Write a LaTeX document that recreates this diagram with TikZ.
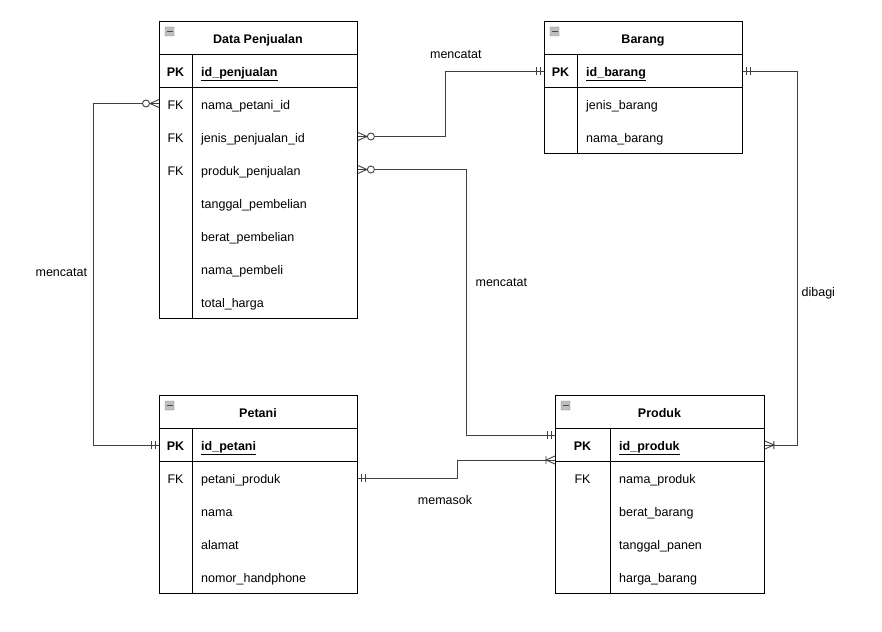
\documentclass[tikz,border=0pt]{standalone}
\usepackage{fontspec}
\setmainfont{Liberation Sans}
\begin{document}
\begin{tikzpicture}[x=1pt,y=-1pt,
  tbl/.style={draw=black, line width=0.9pt, minimum width=#1, anchor=north west, inner sep=0pt},
  sep/.style={draw=black, line width=0.9pt},
  txt/.style={font=\fontsize{12.5}{14}\selectfont, inner sep=0pt},
  ttl/.style={txt, font=\fontsize{12.5}{14}\selectfont\bfseries, anchor=base, yshift=-6pt},
  keyt/.style={txt, anchor=base, yshift=-6pt},
  pkt/.style={txt, font=\fontsize{12.5}{14}\selectfont\bfseries, anchor=base, yshift=-6pt},
  fld/.style={txt, anchor=base west, yshift=-6pt},
  pkf/.style={fld, font=\fontsize{12.5}{14}\selectfont\bfseries},
  lbl/.style={txt, anchor=base},
  conn/.style={draw=black!75, line width=0.9pt},
  mk/.style={draw=black!75, line width=0.9pt},
  mone/.pic={\draw[mk] (4,-4)--(4,4) (8,-4)--(8,4);},
  zmany/.pic={\draw[mk] (0,-4)--(9,0)--(0,4); \draw[mk,fill=white] (13,0) circle (3.5pt);},
  omany/.pic={\draw[mk] (0,-4)--(9,0)--(0,4) (9,-4)--(9,4);},
  icon/.pic={\draw[draw=black!45, fill=black!25, rounded corners=0.5pt] (0,0) rectangle (9,9); \draw[black!70, line width=0.9pt] (1.5,4.5)--(7.5,4.5);}
]
\useasboundingbox (0,0) rectangle (882,631);
\fill[white] (0,0) rectangle (882,631);

% ---------- Data Penjualan ----------
\node[tbl=198pt, minimum height=297pt] (dp) at (159,21) {};
\draw[sep] (159,54)--(357,54) (159,87)--(357,87) (192,54)--(192,318);
\pic at (165,27) {icon};
\node[ttl] (dpt) at (258,37.5) {Data Penjualan};
\node[pkt] (dpk) at (175.5,70.5) {PK};
\node[pkf] (dpid) at (201,70.5) {\underline{id\_penjualan}};
\node[keyt] (dpk1) at (175.5,103.5) {FK};
\node[keyt] (dpk2) at (175.5,136.5) {FK};
\node[keyt] (dpk3) at (175.5,169.5) {FK};
\node[fld] (dpnama) at (201,103.5) {nama\_petani\_id};
\node[fld] (dpjenis) at (201,136.5) {jenis\_penjualan\_id};
\node[fld] (dpproduk) at (201,169.5) {produk\_penjualan};
\node[fld] (dptgl) at (201,202.5) {tanggal\_pembelian};
\node[fld] (dpberat) at (201,235.5) {berat\_pembelian};
\node[fld] (dppemb) at (201,268.5) {nama\_pembeli};
\node[fld] (dptot) at (201,301.5) {total\_harga};

% ---------- Barang ----------
\node[tbl=198pt, minimum height=132pt] (br) at (544,21) {};
\draw[sep] (544,54)--(742,54) (544,87)--(742,87) (577,54)--(577,153);
\pic at (550,27) {icon};
\node[ttl] (brt) at (643,37.5) {Barang};
\node[pkt] (brk) at (560.5,70.5) {PK};
\node[pkf] (brid) at (586,70.5) {\underline{id\_barang}};
\node[fld] (brjenis) at (586,103.5) {jenis\_barang};
\node[fld] (brnama) at (586,136.5) {nama\_barang};

% ---------- Petani ----------
\node[tbl=198pt, minimum height=198pt] (pt) at (159,395) {};
\draw[sep] (159,428)--(357,428) (159,461)--(357,461) (192,428)--(192,593);
\pic at (165,401) {icon};
\node[ttl] (ptt) at (258,411.5) {Petani};
\node[pkt] (ptk) at (175.5,444.5) {PK};
\node[pkf] (ptid) at (201,444.5) {\underline{id\_petani}};
\node[keyt] (ptk1) at (175.5,477.5) {FK};
\node[fld] (ptprod) at (201,477.5) {petani\_produk};
\node[fld] (ptnama) at (201,510.5) {nama};
\node[fld] (ptalamat) at (201,543.5) {alamat};
\node[fld] (pthp) at (201,576.5) {nomor\_handphone};

% ---------- Produk ----------
\node[tbl=209pt, minimum height=198pt] (pr) at (555,395) {};
\draw[sep] (555,428)--(764,428) (555,461)--(764,461) (610,428)--(610,593);
\pic at (561,401) {icon};
\node[ttl] (prt) at (659.5,411.5) {Produk};
\node[pkt] (prk) at (582.5,444.5) {PK};
\node[pkf] (prid) at (619,444.5) {\underline{id\_produk}};
\node[keyt] (prk1) at (582.5,477.5) {FK};
\node[fld] (prnama) at (619,477.5) {nama\_produk};
\node[fld] (prberat) at (619,510.5) {berat\_barang};
\node[fld] (prtgl) at (619,543.5) {tanggal\_panen};
\node[fld] (prharga) at (619,576.5) {harga\_barang};

% ---------- connector bend coordinates ----------
\coordinate (b1) at (93,0);
\coordinate (b2) at (445,0);
\coordinate (b3) at (466.5,0);
\coordinate (b4) at (797,0);
\coordinate (b5) at (457,0);
\coordinate (prin) at (0,435);
\coordinate (prmas) at (0,460);
\coordinate (y1) at (0,103.5);
\coordinate (y2) at (0,136.5);
\coordinate (y3) at (0,169.5);
\coordinate (y4) at (0,71);
\coordinate (y5) at (0,445);
\coordinate (y6) at (0,478);

% ---------- connectors ----------
% Data Penjualan.nama_petani_id -> Petani.id_petani
\draw[conn] (dp.west |- y1) -- (b1 |- y1) -- (b1 |- y5) -- (pt.west |- y5);
\pic[rotate=180] at (dp.west |- y1) {zmany};
\pic[rotate=180] at (pt.west |- y5) {mone};
% Data Penjualan.jenis_penjualan_id -> Barang.id_barang
\draw[conn] (dp.east |- y2) -- (b2 |- y2) -- (b2 |- y4) -- (br.west |- y4);
\pic at (dp.east |- y2) {zmany};
\pic[rotate=180] at (br.west |- y4) {mone};
% Data Penjualan.produk_penjualan -> Produk
\draw[conn] (dp.east |- y3) -- (b3 |- y3) -- (b3 |- prin) -- (pr.west |- prin);
\pic at (dp.east |- y3) {zmany};
\pic[rotate=180] at (pr.west |- prin) {mone};
% Barang.id_barang -> Produk.id_produk
\draw[conn] (br.east |- y4) -- (b4 |- y4) -- (b4 |- y5) -- (pr.east |- y5);
\pic at (br.east |- y4) {mone};
\pic at (pr.east |- y5) {omany};
% Petani.petani_produk -> Produk
\draw[conn] (pt.east |- y6) -- (b5 |- y6) -- (b5 |- prmas) -- (pr.west |- prmas);
\pic at (pt.east |- y6) {mone};
\pic[rotate=180] at (pr.west |- prmas) {omany};

% ---------- labels ----------
\node[lbl] (l1) at (61.3,276.3) {mencatat};
\node[lbl] (l2) at (455.8,58.3) {mencatat};
\node[lbl] (l3) at (501.3,286.3) {mencatat};
\node[lbl] (l4) at (818.3,296) {dibagi};
\node[lbl] (l5) at (445,504.7) {memasok};
\end{tikzpicture}
\end{document}
